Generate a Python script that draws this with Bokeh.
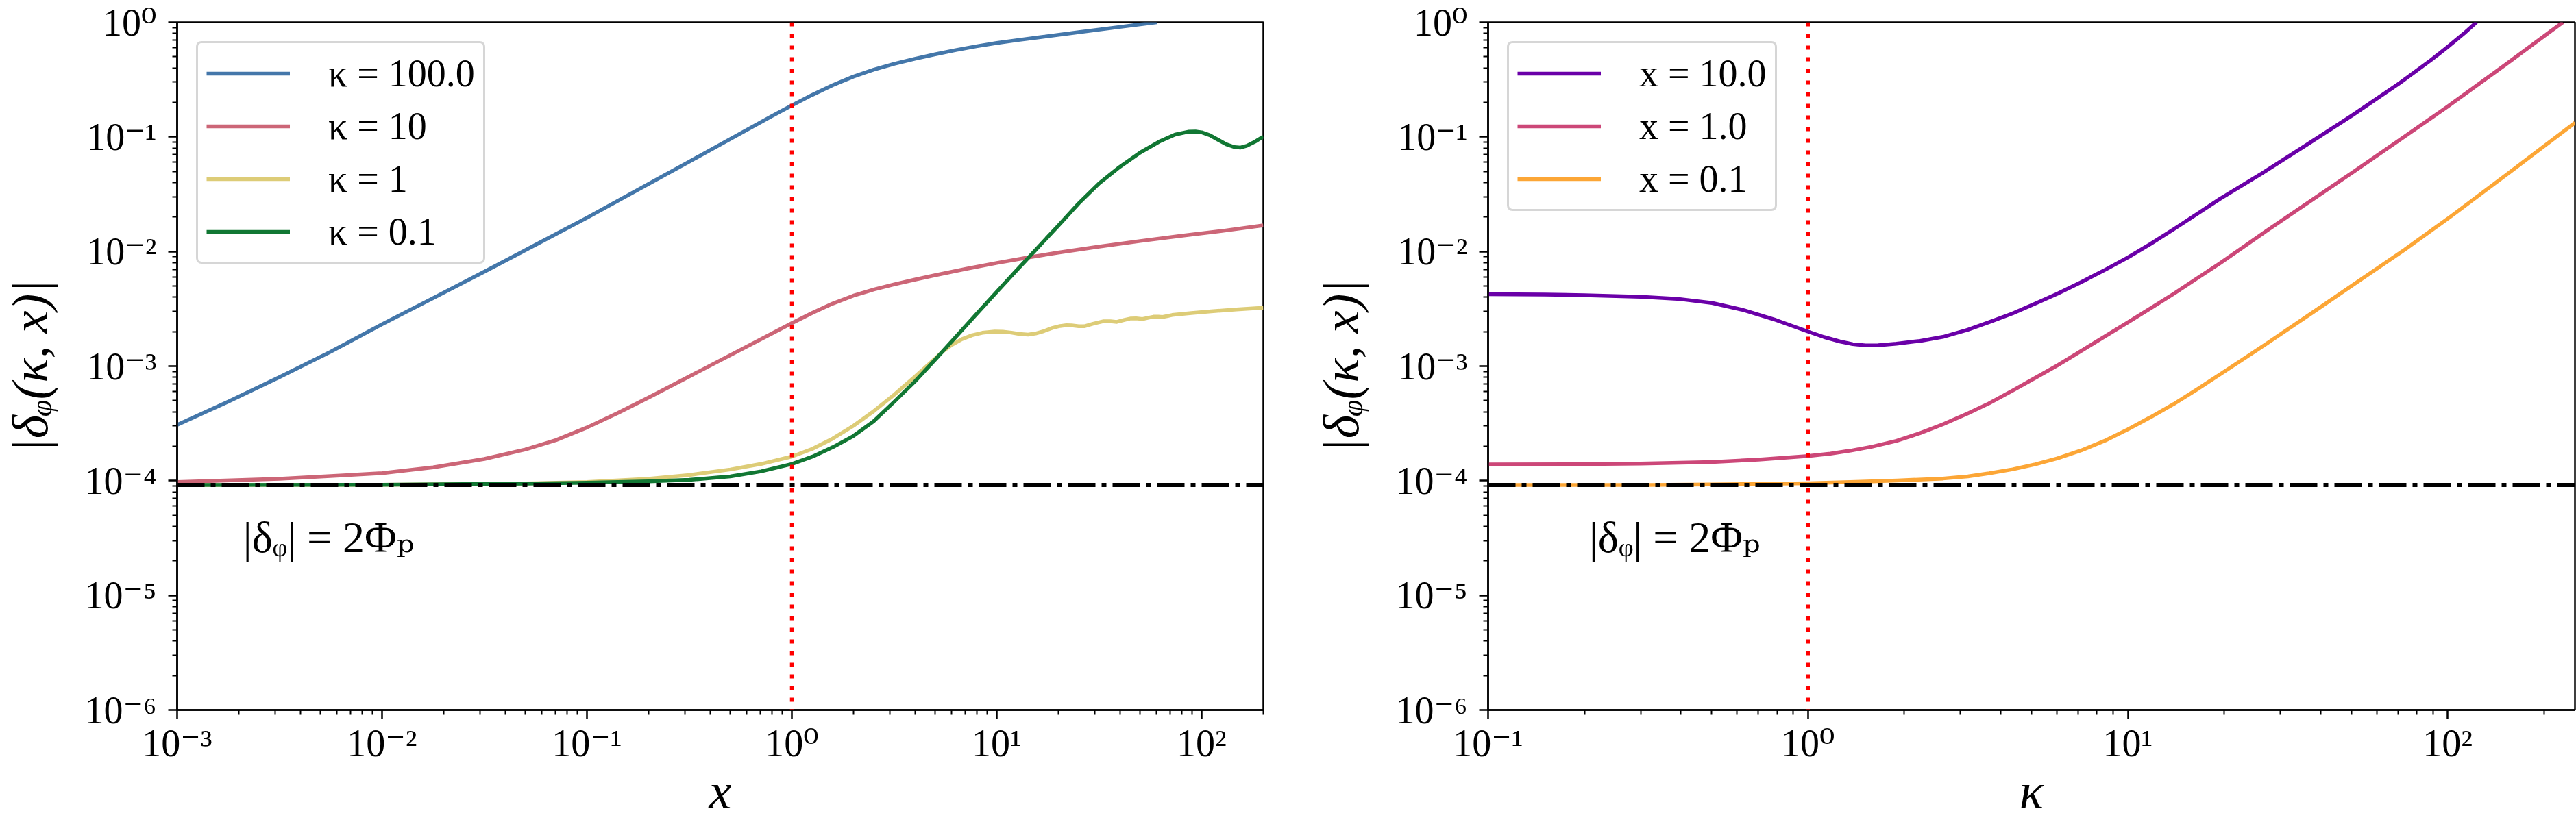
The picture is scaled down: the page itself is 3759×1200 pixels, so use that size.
from bokeh.plotting import figure
from bokeh.layouts import row
from bokeh.models import (Span, Legend, LegendItem, FixedTicker, CustomJSTickFormatter,
                          Label, Range1d)
from bokeh.embed import file_html
from bokeh.resources import INLINE

# ---------------------------------------------------------------- data
# left panel: |delta_phi| against x, one curve per kappa
k100_x = [1e-3, 1.778e-3, 3.162e-3, 5.623e-3, 1e-2, 1.778e-2, 3.162e-2, 5.623e-2, 0.1, 0.1778,
          0.3162, 0.5012, 0.631, 0.7943, 1, 1.259, 1.585, 1.995, 2.512, 3.162, 3.981, 5.012,
          6.31, 7.943, 10, 12.59, 15.85, 25.12, 39.81, 60.3]
k100_y = [3.069e-4, 4.909e-4, 8.017e-4, 1.338e-3, 2.317e-3, 3.926e-3, 6.683e-3, 1.146e-2,
          1.972e-2, 3.467e-2, 6.095e-2, 9.594e-2, 0.1205, 0.1510, 0.1884, 0.2328, 0.2828,
          0.3353, 0.3864, 0.4340, 0.4797, 0.5253, 0.5715, 0.6166, 0.6592, 0.6982, 0.7362,
          0.8185, 0.9099, 1.0]

k10_x = [1e-3, 3.162e-3, 1e-2, 1.778e-2, 3.162e-2, 5.012e-2, 7.079e-2, 0.1, 0.1413, 0.1995,
         0.3162, 0.5623, 1, 1.259, 1.585, 1.995, 2.512, 3.162, 3.981, 5.012, 7.079, 10, 14.13,
         19.95, 31.62, 50.12, 79.43, 125.9, 200]
k10_y = [9.75e-5, 1.040e-4, 1.164e-4, 1.309e-4, 1.549e-4, 1.875e-4, 2.265e-4, 2.913e-4,
         3.895e-4, 5.314e-4, 8.138e-4, 1.390e-3, 2.371e-3, 2.913e-3, 3.519e-3, 4.115e-3,
         4.660e-3, 5.169e-3, 5.682e-3, 6.215e-3, 7.063e-3, 7.943e-3, 8.851e-3, 9.784e-3,
         1.105e-2, 1.234e-2, 1.369e-2, 1.512e-2, 1.690e-2]

k1_x = [1e-3, 1e-2, 2.512e-2, 5.012e-2, 0.1, 0.1995, 0.3162, 0.5012, 0.7079, 1, 1.259, 1.585,
        1.995, 2.512, 3.162, 3.981, 5.012, 5.433, 6.026, 6.761, 7.586, 8.511, 9.772, 10.72,
        11.80, 12.88, 14.22, 15.49, 17.02, 18.62, 20.37, 21.88, 23.23, 25.12, 26.73, 29.51,
        33.27, 35.89, 38.55, 41.69, 45.08, 47.86, 51.40, 54.95, 58.21, 61.66, 64.42, 68.39,
        71.78, 89.13, 111.2, 147.9, 200]
k1_y = [9.18e-5, 9.23e-5, 9.33e-5, 9.48e-5, 9.75e-5, 1.041e-4, 1.123e-4, 1.254e-4, 1.401e-4,
        1.626e-4, 1.899e-4, 2.336e-4, 3.010e-4, 4.050e-4, 5.643e-4, 8.060e-4, 1.168e-3,
        1.337e-3, 1.531e-3, 1.718e-3, 1.862e-3, 1.954e-3, 2.004e-3, 1.995e-3, 1.959e-3,
        1.910e-3, 1.884e-3, 1.928e-3, 2.023e-3, 2.148e-3, 2.239e-3, 2.275e-3, 2.265e-3,
        2.228e-3, 2.228e-3, 2.344e-3, 2.466e-3, 2.466e-3, 2.432e-3, 2.523e-3, 2.606e-3,
        2.612e-3, 2.576e-3, 2.642e-3, 2.698e-3, 2.704e-3, 2.685e-3, 2.742e-3, 2.793e-3,
        2.904e-3, 3.006e-3, 3.119e-3, 3.236e-3]

k01_x = [1e-3, 1e-2, 5.012e-2, 0.1, 0.1995, 0.3162, 0.5012, 0.7079, 1, 1.259, 1.585, 1.995,
         2.512, 3.162, 3.981, 5.012, 6.31, 7.943, 10, 12.59, 15.85, 19.95, 25.12, 31.62, 39.81,
         50.12, 63.10, 74.13, 85.90, 93.33, 100, 109.6, 120.2, 131.8, 144.5, 154.9, 166.0,
         182.0, 200]
k01_y = [9.18e-5, 9.23e-5, 9.44e-5, 9.62e-5, 9.86e-5, 1.019e-4, 1.091e-4, 1.208e-4, 1.400e-4,
         1.622e-4, 1.963e-4, 2.455e-4, 3.311e-4, 4.898e-4, 7.328e-4, 1.143e-3, 1.799e-3,
         2.831e-3, 4.446e-3, 6.950e-3, 1.081e-2, 1.679e-2, 2.630e-2, 3.936e-2, 5.470e-2,
         7.295e-2, 9.226e-2, 0.1047, 0.1109, 0.1114, 0.1096, 0.1035, 9.441e-2, 8.630e-2,
         8.147e-2, 8.072e-2, 8.356e-2, 9.078e-2, 0.1007]

# right panel: |delta_phi| against kappa, one curve per x
x10_k = [0.1, 0.15, 0.2, 0.3, 0.3981, 0.5012, 0.631, 0.7943, 1, 1.122, 1.259, 1.380, 1.514,
         1.660, 1.890, 2.239, 2.640, 3.162, 3.680, 4.365, 5.131, 6.026, 7.159, 8.511, 10,
         11.75, 13.90, 16.41, 19.40, 26.20, 35.48, 50.12, 70.79, 89.13, 100, 112.2, 123.0]
x10_y = [4.236e-3, 4.207e-3, 4.159e-3, 4.027e-3, 3.846e-3, 3.556e-3, 3.076e-3, 2.523e-3,
         2.004e-3, 1.795e-3, 1.641e-3, 1.556e-3, 1.517e-3, 1.521e-3, 1.570e-3, 1.660e-3,
         1.799e-3, 2.075e-3, 2.415e-3, 2.884e-3, 3.508e-3, 4.285e-3, 5.420e-3, 6.950e-3,
         8.872e-3, 1.161e-2, 1.563e-2, 2.113e-2, 2.877e-2, 4.786e-2, 8.222e-2, 0.1531,
         0.2951, 0.4732, 0.6095, 0.7943, 1.0]

x1_k = [0.1, 0.2, 0.3, 0.5, 0.7, 1, 1.175, 1.36, 1.585, 1.89, 2.239, 2.64, 3.162, 3.68, 4.365,
        5.131, 6.026, 7.159, 8.511, 10, 11.75, 13.93, 16.41, 19.42, 22.91, 27.09, 37.77, 50.97,
        70.79, 100, 150.7, 229.1]
x1_y = [1.387e-4, 1.396e-4, 1.413e-4, 1.459e-4, 1.528e-4, 1.641e-4, 1.726e-4, 1.832e-4,
        1.982e-4, 2.228e-4, 2.600e-4, 3.105e-4, 3.873e-4, 4.732e-4, 6.124e-4, 7.889e-4,
        1.016e-3, 1.361e-3, 1.828e-3, 2.410e-3, 3.184e-3, 4.285e-3, 5.794e-3, 7.907e-3,
        1.089e-2, 1.507e-2, 2.831e-2, 5.000e-2, 9.397e-2, 0.1841, 0.4217, 1.0]

x01_k = [0.1, 0.3162, 0.5012, 1, 1.357, 1.905, 2.64, 3.162, 3.68, 4.365, 5.133, 6.026, 7.156,
         8.511, 10, 11.75, 13.93, 16.41, 19.42, 22.91, 27.09, 37.77, 52.70, 73.50, 102.5,
         152.8, 250]
x01_y = [9.18e-5, 9.20e-5, 9.27e-5, 9.51e-5, 9.73e-5, 1.005e-4, 1.045e-4, 1.091e-4, 1.161e-4,
         1.259e-4, 1.390e-4, 1.567e-4, 1.841e-4, 2.249e-4, 2.805e-4, 3.573e-4, 4.677e-4,
         6.237e-4, 8.472e-4, 1.148e-3, 1.563e-3, 2.931e-3, 5.521e-3, 1.042e-2, 2.032e-2,
         4.688e-2, 0.1330]

left_labels = ["κ = 100.0", "κ = 10", "κ = 1", "κ = 0.1"]
left_colors = ["#4477AA", "#CC6677", "#DDCC77", "#117733"]
right_labels = ["x = 10.0", "x = 1.0", "x = 0.1"]
right_colors = ["#6A00A8", "#CC4778", "#FCA636"]

PHI_FLOOR = 9.2e-5          # |delta_phi| = 2 Phi_p
X_MARK = 1.0                # vertical reference at 1
FLOOR_TEXT = "|δᵩ| = 2Φₚ"
FLOOR_TEXT_Y = 3.2e-5
FLOOR_TEXT_X_LEFT = 2.1e-3
FLOOR_TEXT_X_RIGHT = 0.207

Y_MAJOR = [1e-6, 1e-5, 1e-4, 1e-3, 1e-2, 1e-1, 1.0]
XL_MAJOR = [1e-3, 1e-2, 1e-1, 1.0, 10.0, 100.0]
XR_MAJOR = [1e-1, 1.0, 10.0, 100.0]


def minors(lo_exp, hi_exp, upper):
    vals = []
    for e in range(lo_exp, hi_exp + 1):
        for m in range(2, 10):
            v = m * 10.0 ** e
            if v <= upper:
                vals.append(v)
    return vals


SERIF = "Liberation Serif, DejaVu Serif, serif"
SUP_JS = """
const sup = {"-": "\\u207b", "0": "\\u2070", "1": "\\u00b9", "2": "\\u00b2", "3": "\\u00b3",
             "4": "\\u2074", "5": "\\u2075", "6": "\\u2076", "7": "\\u2077", "8": "\\u2078",
             "9": "\\u2079"};
const e = Math.round(Math.log10(tick));
return "10" + String(e).split("").map((c) => sup[c]).join("");
"""


def make_panel(width, b_left, b_right, xr, x_major, x_minor, xlabel):
    p = figure(width=width, height=1200, x_axis_type="log", y_axis_type="log",
               x_range=Range1d(*xr), y_range=Range1d(1e-6, 1.0),
               output_backend="svg", toolbar_location=None,
               min_border_left=b_left, min_border_right=b_right,
               min_border_top=32, min_border_bottom=164,
               background_fill_color="white", border_fill_color="white")
    p.grid.visible = False
    p.outline_line_color = "black"
    p.outline_line_width = 2.5
    p.outline_line_alpha = 1.0
    for ax, major, minor in ((p.xaxis[0], x_major, x_minor),
                             (p.yaxis[0], Y_MAJOR, minors(-6, -1, 1.0))):
        ax.ticker = FixedTicker(ticks=major, minor_ticks=minor)
        ax.formatter = CustomJSTickFormatter(code=SUP_JS)
        ax.major_tick_out = 13
        ax.major_tick_in = 0
        ax.minor_tick_out = 7
        ax.minor_tick_in = 0
        ax.major_tick_line_width = 2.5
        ax.minor_tick_line_width = 2
        ax.axis_line_width = 2.5
        ax.major_label_text_font = SERIF
        ax.major_label_text_font_size = "56px"
        ax.major_label_text_color = "black"
        ax.axis_label_text_font = SERIF
        ax.axis_label_text_font_size = "74px"
        ax.axis_label_text_font_style = "italic"
        ax.axis_label_text_color = "black"
    p.xaxis.axis_label = xlabel
    p.xaxis.major_label_standoff = 4
    p.xaxis.axis_label_standoff = -5
    p.yaxis.axis_label = "|δᵩ(κ, x)|"
    p.yaxis.major_label_standoff = 17
    p.yaxis.axis_label_standoff = 35
    return p


def add_legend(p, renderers, labels):
    kw = dict(location="top_left", margin=28, padding=12, spacing=13,
              glyph_width=122, glyph_height=60, label_height=60, label_standoff=56,
              label_text_font=SERIF, label_text_font_size="56px", label_text_color="black",
              border_line_color="#cccccc", border_line_width=3.5, border_line_alpha=0.8,
              background_fill_color="white", background_fill_alpha=0.8)
    if "border_radius" in Legend.properties():
        kw["border_radius"] = 8
    legend = Legend(items=[LegendItem(label=lab, renderers=[r])
                           for lab, r in zip(labels, renderers)], **kw)
    p.add_layout(legend)


def add_guides(p, text_x):
    p.add_layout(Span(location=PHI_FLOOR, dimension="width", line_color="black",
                      line_width=6, line_dash="40 9 7 9"))
    p.add_layout(Span(location=X_MARK, dimension="height", line_color="#FF0000",
                      line_width=5.5, line_dash="6 11"))
    p.add_layout(Label(x=text_x, y=FLOOR_TEXT_Y, text=FLOOR_TEXT, text_font=SERIF,
                       text_font_size="64px", text_color="black",
                       text_baseline="alphabetic", text_align="left"))


# ---------------------------------------------------------------- left panel
p1 = make_panel(1900, 257, 57, (1e-3, 200.0), XL_MAJOR, minors(-3, 2, 200.0), "x")
left_series = [(k100_x, k100_y), (k10_x, k10_y), (k1_x, k1_y), (k01_x, k01_y)]
r_left = [p1.line(xs, ys, line_color=c, line_width=5.5, line_join="round")
          for (xs, ys), c in zip(left_series, left_colors)]
add_guides(p1, FLOOR_TEXT_X_LEFT)
add_legend(p1, r_left, left_labels)

# ---------------------------------------------------------------- right panel
p2 = make_panel(1859, 271, 2, (0.1, 250.0), XR_MAJOR, minors(-1, 2, 250.0), "κ")
right_series = [(x10_k, x10_y), (x1_k, x1_y), (x01_k, x01_y)]
r_right = [p2.line(xs, ys, line_color=c, line_width=5.5, line_join="round")
           for (xs, ys), c in zip(right_series, right_colors)]
add_guides(p2, FLOOR_TEXT_X_RIGHT)
add_legend(p2, r_right, right_labels)

layout = row(p1, p2)
open("out.html", "w").write(file_html(layout, INLINE))
